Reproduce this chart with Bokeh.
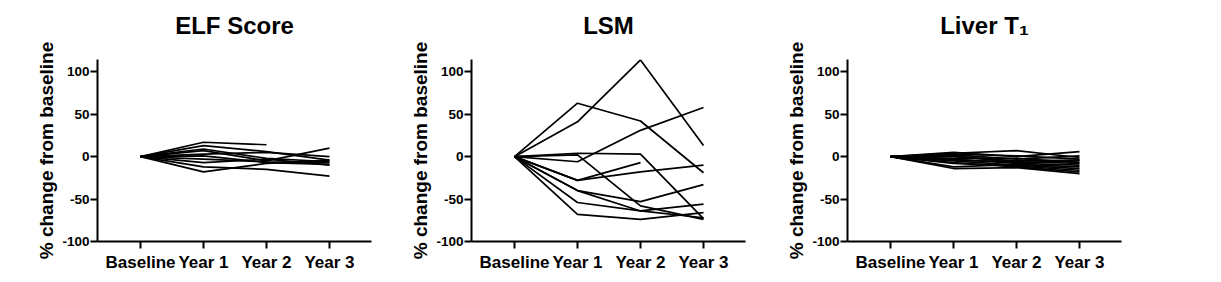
from bokeh.plotting import figure
from bokeh.layouts import row
from bokeh.models import Range1d, FixedTicker, LinearAxis
from bokeh.embed import file_html
from bokeh.resources import INLINE

timepoints = ["Baseline", "Year 1", "Year 2", "Year 3"]
y_ticks = [-100, -50, 0, 50, 100]

# % change from baseline per participant (Baseline, Year 1, Year 2, Year 3); None = missing
elf_score = [
    [0, 17, 14, None],
    [0, 13, 6, -4],
    [0, 7, -5, 10],
    [0, 3, 5, 0],
    [0, -3, -6, -7],
    [0, -7, -3, -10],
    [0, -12, -15, -23],
    [0, -18, -8, -4],
    [0, 1, -7, -9],
    [0, 9, -2, -6],
]

lsm = [
    [0, 41, 114, 13],
    [0, 63, 42, -19],
    [0, -6, 31, 58],
    [0, 4, 3, -73],
    [0, -28, -7, None],
    [0, -28, -18, -10],
    [0, -40, -53, -33],
    [0, -54, -64, -56],
    [0, -68, -74, -66],
    [0, -40, -64, -72],
    [0, 2, -58, -74],
]

liver_t1 = [
    [0, 4, 7, -1],
    [0, 5, 0, 6],
    [0, 2, -3, 1],
    [0, 0, -5, -4],
    [0, -2, -2, -7],
    [0, -3, -8, -10],
    [0, -5, -10, -14],
    [0, -7, -12, -18],
    [0, -14, -13, -20],
    [0, -12, -9, -12],
    [0, -4, -6, -8],
    [0, 1, -7, -5],
    [0, -8, -11, -16],
    [0, 3, 1, -3],
]

titles = ["ELF Score", "LSM", "Liver T\u2081"]
panels = [elf_score, lsm, liver_t1]

FONT = "Liberation Sans"


def make_panel(title, data, left, right):
    p = figure(
        frame_width=274, frame_height=182,
        min_border_left=left, min_border_right=right, min_border_top=59, min_border_bottom=30,
        x_range=Range1d(-0.683, 3.667), y_range=Range1d(-100, 114.5),
        output_backend="svg", toolbar_location=None, tools="",
    )
    p.outline_line_color = None
    p.xgrid.visible = False
    p.ygrid.visible = False
    p.background_fill_color = "white"
    p.border_fill_color = "white"

    bottom = p.below[0]
    left_ax = p.left[0]

    # chart title drawn as the label of a bare axis above the frame
    top = LinearAxis(
        ticker=FixedTicker(ticks=[]),
        axis_line_color=None, major_tick_line_color=None, minor_tick_line_color=None,
        axis_label=title, axis_label_standoff=21,
        axis_label_text_font=FONT, axis_label_text_font_size="24px",
        axis_label_text_font_style="bold", axis_label_text_color="black",
    )
    p.add_layout(top, "above")

    xs, ys = [], []
    for series in data:
        pts = [(i, v) for i, v in enumerate(series) if v is not None]
        xs.append([a for a, _ in pts])
        ys.append([b for _, b in pts])
    p.multi_line(xs, ys, line_color="black", line_width=1.7)

    for ax in (bottom, left_ax):
        ax.axis_line_width = 2
        ax.axis_line_color = "black"
        ax.major_tick_line_width = 2
        ax.major_tick_line_color = "black"
        ax.major_tick_out = 7
        ax.major_tick_in = 0
        ax.minor_tick_line_color = None
        ax.major_label_text_font = FONT
        ax.major_label_text_font_style = "bold"
        ax.major_label_text_color = "black"

    bottom.ticker = FixedTicker(ticks=list(range(len(timepoints))))
    bottom.major_label_overrides = {i: t for i, t in enumerate(timepoints)}
    bottom.major_label_text_font_size = "17px"
    bottom.major_label_standoff = 4

    left_ax.ticker = FixedTicker(ticks=y_ticks)
    left_ax.major_label_overrides = {v: str(v) for v in y_ticks}
    left_ax.major_label_text_font_size = "13.5px"
    left_ax.major_label_standoff = 1
    left_ax.axis_label = "% change from baseline"
    left_ax.axis_label_text_font = FONT
    left_ax.axis_label_text_font_size = "19px"
    left_ax.axis_label_text_font_style = "bold"
    left_ax.axis_label_text_color = "black"
    left_ax.axis_label_standoff = 2
    return p


figs = [make_panel(t, d, l, r) for t, d, l, r in
        zip(titles, panels, [97, 97, 98], [3, 4, 3])]
layout = row(*figs, spacing=0)

open("out.html", "w").write(file_html(layout, INLINE))
